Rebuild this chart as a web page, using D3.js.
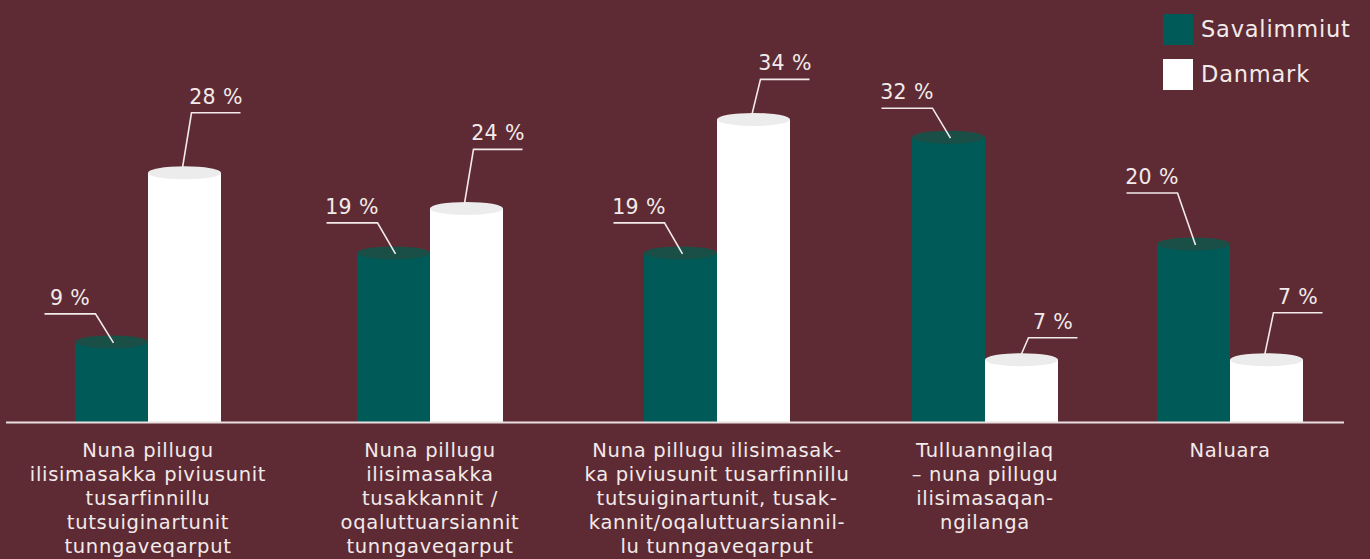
<!DOCTYPE html>
<html>
<head>
  <meta charset="utf-8">
  <script src="https://d3js.org/d3.v7.min.js"></script>
  <style>
    html, body { margin: 0; padding: 0; background: #5e2b34; }
    svg { display: block; font-family: "DejaVu Sans", sans-serif; }
  </style>
</head>
<body>
<script>
  // Category labels (already broken into lines as in the original)
  var categories = [
    ["Nuna pillugu", "ilisimasakka piviusunit", "tusarfinnillu", "tutsuiginartunit", "tunngaveqarput"],
    ["Nuna pillugu", "ilisimasakka", "tusakkannit /", "oqaluttuarsiannit", "tunngaveqarput"],
    ["Nuna pillugu ilisimasak-", "ka piviusunit tusarfinnillu", "tutsuiginartunit, tusak-", "kannit/oqaluttuarsiannil-", "lu tunngaveqarput"],
    ["Tulluanngilaq", "– nuna pillugu", "ilisimasaqan-", "ngilanga"],
    ["Naluara"]
  ];
  var seriesNames = ["Savalimmiut", "Danmark"];
  var savalimmiut = [9, 19, 19, 32, 20];
  var danmark = [28, 24, 34, 7, 7];

  // layout only: how far each label elbow sits above its bar top
  var liftSavalimmiut = [28, 30, 30, 29, 51];
  var liftDanmark = [60, 59, 40, 22, 47];

  var W = 1370, H = 559;
  var baseY = 422;
  var barW = 73;
  var colTeal = "#005a57", colTealTop = "#1a4f47";
  var colWhite = "#ffffff", colWhiteTop = "#ececec";
  var txtCol = "#f3eaea";

  var svg = d3.select("body").append("svg")
    .attr("width", W).attr("height", H);

  svg.append("rect").attr("width", W).attr("height", H).attr("fill", "#5e2b34");

  var idx = d3.range(categories.length);

  // group centres (the original spacing is not uniform)
  var x = d3.scaleOrdinal().domain(idx).range([148, 430, 717, 985, 1230]);
  var y = d3.scaleLinear().domain([0, 40]).range([baseY, baseY - 356]);

  var series = [
    { name: seriesNames[0], values: savalimmiut, lift: liftSavalimmiut, fill: colTeal, top: colTealTop, side: -1 },
    { name: seriesNames[1], values: danmark, lift: liftDanmark, fill: colWhite, top: colWhiteTop, side: 1 }
  ];

  series.forEach(function(s) {
    var g = svg.append("g");
    var bars = g.selectAll("g.bar").data(idx).enter().append("g").attr("class", "bar");

    bars.append("rect")
      .attr("x", function(i) { return s.side < 0 ? x(i) - barW : x(i); })
      .attr("y", function(i) { return y(s.values[i]); })
      .attr("width", barW)
      .attr("height", function(i) { return baseY - y(s.values[i]); })
      .attr("fill", s.fill);

    bars.append("ellipse")
      .attr("cx", function(i) { return x(i) + s.side * barW / 2; })
      .attr("cy", function(i) { return y(s.values[i]); })
      .attr("rx", barW / 2)
      .attr("ry", 6.5)
      .attr("fill", s.top);
  });

  // value labels with leader lines
  series.forEach(function(s) {
    idx.forEach(function(i) {
      var c = x(i) + s.side * barW / 2;
      var top = y(s.values[i]);
      var ex, sx, endX;
      if (s.side < 0) {
        ex = c - 16; sx = ex - 51; endX = c + 2;
      } else {
        ex = c + 7; sx = ex + 49; endX = c - 3;
      }
      var ey = top - s.lift[i];
      svg.append("polyline")
        .attr("points", [[sx, ey], [ex, ey], [endX, top + 1]].map(function(p) { return p.join(","); }).join(" "))
        .attr("fill", "none")
        .attr("stroke", txtCol)
        .attr("stroke-width", 1.6);
      svg.append("text")
        .attr("x", (sx + ex) / 2)
        .attr("y", ey - 9)
        .attr("text-anchor", "middle")
        .attr("fill", txtCol)
        .style("font-size", "20.5px")
        .style("letter-spacing", "0.4px")
        .text(s.values[i] + " %");
    });
  });

  // baseline
  svg.append("line")
    .attr("x1", 6).attr("x2", 1344)
    .attr("y1", baseY + 0.5).attr("y2", baseY + 0.5)
    .attr("stroke", "#e9dfe0").attr("stroke-width", 2);

  // category labels
  idx.forEach(function(i) {
    var t = svg.append("text")
      .attr("text-anchor", "middle")
      .attr("fill", txtCol)
      .style("font-size", "19.5px")
      .style("letter-spacing", "0.7px");
    categories[i].forEach(function(line, k) {
      t.append("tspan")
        .attr("x", x(i))
        .attr("y", 457 + k * 24)
        .text(line);
    });
  });

  // legend
  var leg = svg.append("g").attr("transform", "translate(1163,14)");
  series.forEach(function(s, k) {
    leg.append("rect")
      .attr("x", 0).attr("y", k * 45)
      .attr("width", 30).attr("height", 31)
      .attr("fill", s.fill);
    leg.append("text")
      .attr("x", 38).attr("y", k * 45 + 23)
      .attr("fill", txtCol)
      .style("font-size", "22.5px")
      .style("letter-spacing", "0.8px")
      .text(s.name);
  });
</script>
</body>
</html>
